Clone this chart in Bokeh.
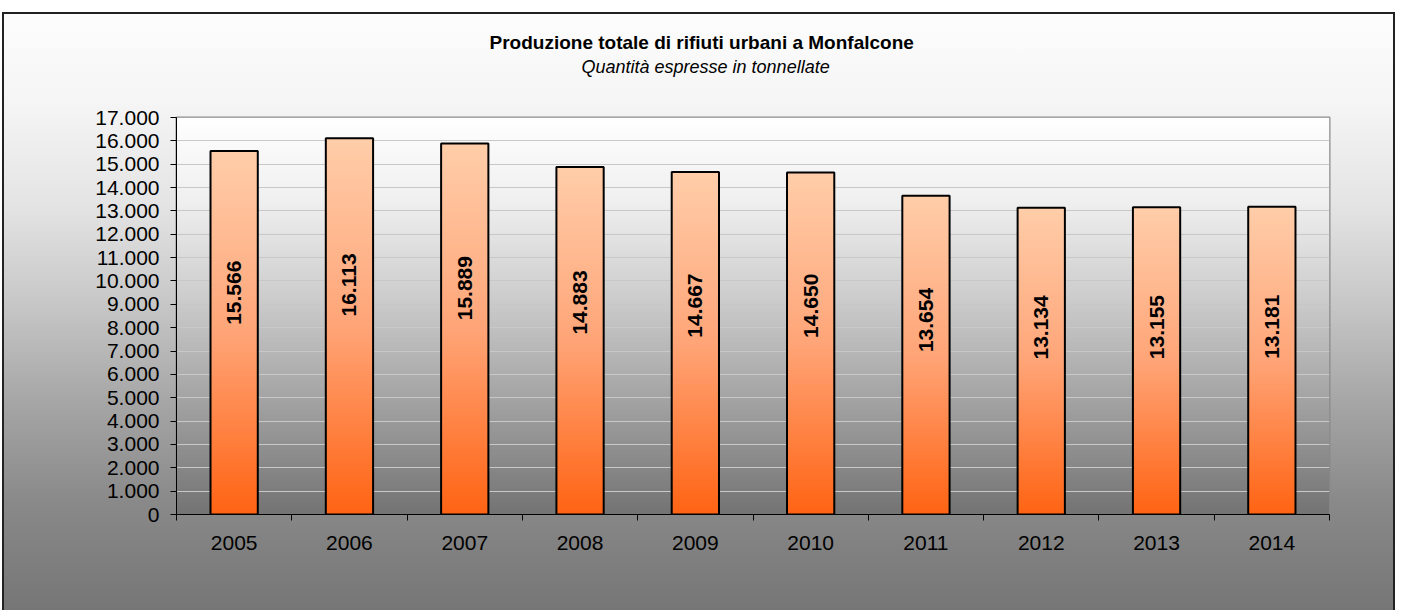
import math
import numpy as np
from bokeh.plotting import figure
from bokeh.models import Range1d, FixedTicker, Title, ColumnDataSource
from bokeh.core.properties import value
from bokeh.embed import file_html
from bokeh.resources import INLINE

# ---------------- data ----------------
years = ["2005", "2006", "2007", "2008", "2009", "2010", "2011", "2012", "2013", "2014"]
tonnes = [15566, 16113, 15889, 14883, 14667, 14650, 13654, 13134, 13155, 13181]
y_ticks = list(range(0, 17001, 1000))
title_text = "Produzione totale di rifiuti urbani a Monfalcone"
subtitle_text = "Quantità espresse in tonnellate"

FONT = "Liberation Sans"


def it_fmt(v):
    return f"{v:,}".replace(",", ".")


def gradient(stops, n=256):
    """stops: list of (fraction, (r, g, b)) -> (n, 1) uint32 RGBA image, row 0 at bottom"""
    fr = np.linspace(0, 1, n)
    pos = [s[0] for s in stops]
    chans = [np.interp(fr, pos, [s[1][c] for s in stops]) for c in range(3)]
    img = np.empty((n, 1), dtype=np.uint32)
    view = img.view(dtype=np.uint8).reshape((n, 1, 4))
    for c in range(3):
        view[:, 0, c] = chans[c].astype(np.uint8)
    view[:, 0, 3] = 255
    return img


n = len(years)
xpos = [i + 0.5 for i in range(n)]
bar_w = 0.41

W, H = 1393, 598
p = figure(
    width=W, height=H,
    x_range=Range1d(0, n), y_range=Range1d(0, 17000),
    output_backend="svg", toolbar_location=None,
    min_border_left=172, min_border_right=68, min_border_top=102, min_border_bottom=98,
)
p.title = None
p.margin = (12, -10, -10, 2)
p.styles = {
    "background": "linear-gradient(to bottom, #fdfdfd 0%, #f5f5f5 15%, #e4e4e4 32%, #c8c8c8 48%, #a6a6a6 65%, #898989 82%, #767676 100%)",
    "border-top": "2px solid #222",
    "border-left": "2px solid #222",
    "border-right": "2px solid #222",
}
p.border_fill_alpha = 0
p.background_fill_alpha = 0

# plot-area gradient background
bg = gradient([(0.0, (0x74, 0x74, 0x74)), (0.29, (0xa4, 0xa4, 0xa4)), (0.54, (0xcc, 0xcc, 0xcc)),
               (0.79, (0xf0, 0xf0, 0xf0)), (1.0, (0xff, 0xff, 0xff))])
r_bg = p.image_rgba(image=[bg], x=0, y=0, dw=n, dh=17000)
r_bg.level = "image"

# bar gradients
bar_img = gradient([(0.0, (255, 100, 20)), (0.5, (255, 165, 120)), (1.0, (255, 206, 170))])
p.image_rgba(image=[bar_img] * n, x=[x - bar_w / 2 for x in xpos], y=[0] * n,
             dw=[bar_w] * n, dh=tonnes)
p.vbar(x=xpos, top=tonnes, width=bar_w, fill_color=None, line_color="black", line_width=2)

# value labels inside bars
src = ColumnDataSource(dict(x=xpos, y=[v * 0.61 for v in tonnes], t=[it_fmt(v) for v in tonnes]))
p.text(x="x", y="y", text="t", source=src, angle=math.pi / 2, text_align="center",
       text_baseline="middle", text_font=value(FONT), text_font_style="bold",
       text_font_size="21px", text_color="black")

# axes
p.yaxis.ticker = FixedTicker(ticks=y_ticks)
p.yaxis.major_label_overrides = {t: it_fmt(t) for t in y_ticks}
p.yaxis.major_label_text_font = FONT
p.yaxis.major_label_text_font_size = "21px"
p.yaxis.major_label_text_color = "black"
p.yaxis.major_tick_out = 6
p.yaxis.major_tick_in = 0
p.yaxis.minor_tick_line_color = None
p.yaxis.axis_line_color = "black"
p.yaxis.major_tick_line_color = "black"
p.yaxis.major_label_standoff = 11

p.xaxis.ticker = FixedTicker(ticks=xpos, minor_ticks=list(range(0, n + 1)))
p.xaxis.major_label_overrides = {x: y for x, y in zip(xpos, years)}
p.xaxis.major_label_text_font = FONT
p.xaxis.major_label_text_font_size = "21px"
p.xaxis.major_label_text_color = "black"
p.xaxis.major_tick_line_color = None
p.xaxis.minor_tick_line_color = "black"
p.xaxis.minor_tick_out = 6
p.xaxis.minor_tick_in = 0
p.xaxis.axis_line_color = "black"
p.xaxis.major_label_standoff = 15

p.xgrid.grid_line_color = None
p.ygrid.ticker = FixedTicker(ticks=y_ticks)
p.ygrid.grid_line_color = "#c8c8c8"

p.outline_line_color = "#8a8a8a"
p.outline_line_width = 2

# titles: left-aligned with offsets so they sit centred over the whole chart
p.add_layout(Title(text=subtitle_text, align="left", offset=405, standoff=81,
                   text_font=FONT, text_font_style="italic", text_font_size="18px",
                   text_color="black"), "above")
p.add_layout(Title(text=title_text, align="left", offset=313, standoff=-76,
                   text_font=FONT, text_font_style="bold", text_font_size="19px",
                   text_color="black"), "above")

open("out.html", "w").write(file_html(p, INLINE))
